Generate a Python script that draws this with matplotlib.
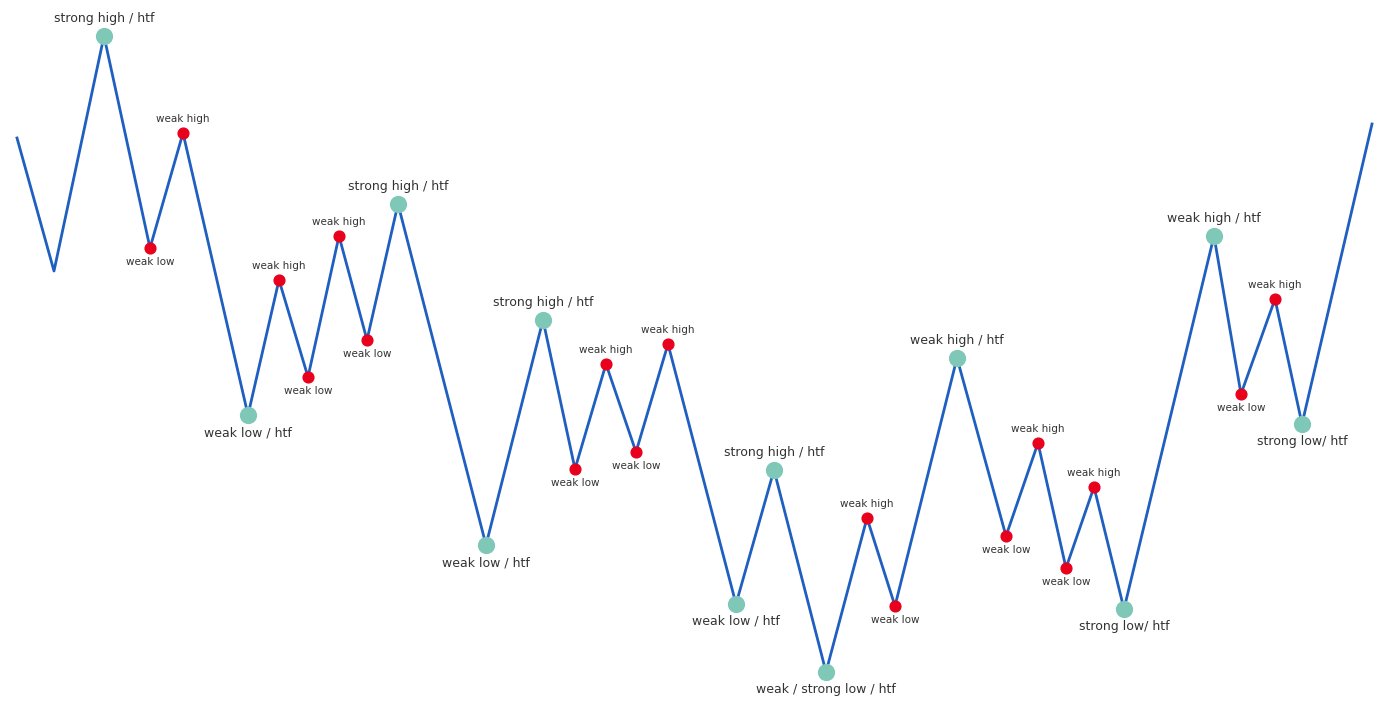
import matplotlib
matplotlib.use("Agg")
import matplotlib.pyplot as plt

xs = [17,54,104,150,183,248,279,308,339,367,398,486,543,575,606,636,668,736,774,826,867,895,957,1006,1038,1066,1094,1124,1214,1241,1275,1302,1372]
ys = [138,271,36,248,133,415,280,377,236,340,204,545,320,469,364,452,344,604,470,672,518,606,358,536,443,568,487,609,236,394,299,424,124]
labels = ["", "", "strong high / htf", "weak low", "weak high", "weak low / htf", "weak high", "weak low",
          "weak high", "weak low", "strong high / htf", "weak low / htf", "strong high / htf", "weak low",
          "weak high", "weak low", "weak high", "weak low / htf", "strong high / htf", "weak / strong low / htf",
          "weak high", "weak low", "weak high / htf", "weak low", "weak high", "weak low", "weak high",
          "strong low/ htf", "weak high / htf", "weak low", "weak high", "strong low/ htf", ""]
kinds = ["", "", "T", "R", "R", "T", "R", "R", "R", "R", "T", "T", "T", "R", "R", "R", "R", "T", "T", "T",
         "R", "R", "T", "R", "R", "R", "R", "T", "T", "R", "R", "T", ""]

fig = plt.figure(figsize=(14, 7.15), dpi=100)
ax = fig.add_axes([0, 0, 1, 1])
ax.set_xlim(0, 1400)
ax.set_ylim(715, 0)
ax.axis("off")
ax.plot(xs, ys, color="#1f5fbf", lw=2, zorder=1)
for i, (x, y, lab, k) in enumerate(zip(xs, ys, labels, kinds)):
    if not k:
        continue
    high = ys[i] < ys[i-1]
    if k == "T":
        ax.scatter([x], [y], s=130, color="#7fc8b8", zorder=2)
        fs, off = 9, 11
    else:
        ax.scatter([x], [y], s=60, color="#e8001c", zorder=2)
        fs, off = 7.5, 9
    if high:
        ax.text(x, y - off, lab, ha="center", va="bottom", fontsize=fs, color="#333333")
    else:
        ax.text(x, y + off, lab, ha="center", va="top", fontsize=fs, color="#333333")
fig.savefig("out.png", dpi=100, facecolor="white")
